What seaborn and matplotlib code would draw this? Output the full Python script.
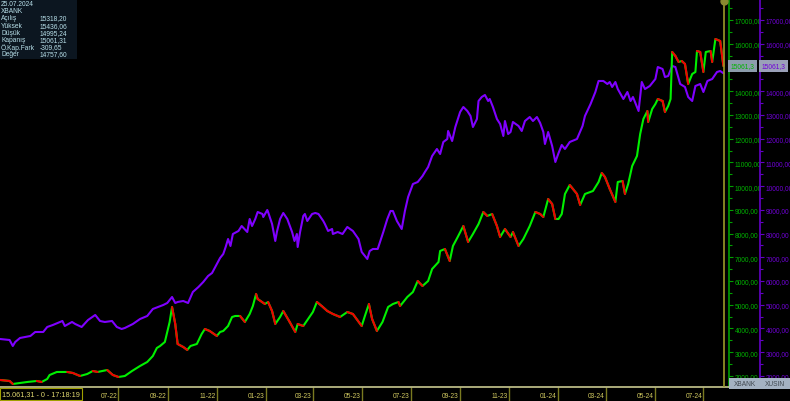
import numpy as np
import pandas as pd
import matplotlib
matplotlib.use("Agg")
import matplotlib.pyplot as plt
import matplotlib.dates as mdates
from matplotlib.collections import LineCollection
from matplotlib.patches import Rectangle
from matplotlib.ticker import MultipleLocator, FuncFormatter
from matplotlib.transforms import blended_transform_factory
import seaborn as sns

# ---------------- data ----------------
start_date = "2022-02-03"

# XBANK (days since start, close)
bank_days = [
    0, 12, 16, 25, 34, 46, 52, 59, 62, 71,
    84, 91, 100, 109, 116, 122, 134, 141, 148, 156,
    165, 175, 184, 191, 196, 200, 206, 212, 215, 219,
    222, 229, 234, 238, 246, 252, 256, 262, 271, 275,
    279, 285, 290, 294, 300, 306, 312, 316, 320, 322,
    331, 335, 340, 344, 350, 354, 362, 369, 372, 379,
    385, 391, 396, 402, 409, 416, 425, 434, 441, 452,
    456, 461, 465, 471, 478, 485, 491, 498, 500, 509,
    516, 522, 528, 535, 540, 548, 550, 556, 562, 566,
    572, 579, 585, 591, 598, 604, 609, 615, 621, 625,
    631, 638, 641, 648, 654, 662, 669, 675, 679, 685,
    690, 694, 698, 702, 706, 712, 721, 725, 731, 741,
    748, 752, 756, 762, 769, 772, 778, 781, 785, 790,
    796, 800, 804, 809, 810, 815, 819, 822, 828, 831,
    835, 838, 840, 844, 848, 852, 856, 860, 865, 869,
    871, 875, 879, 882, 888, 890, 894, 900, 904,
]
bank_close = [
    1830, 1788, 1661, 1703, 1745, 1788, 1745, 1872, 2040, 2167,
    2167, 2125, 1998, 2082, 2209, 2167, 2251, 2040, 1956, 1998,
    2209, 2420, 2588, 2841, 3178, 3262, 3431, 4274, 4906, 4189,
    3347, 3220, 3094, 3262, 3347, 3768, 3979, 3895, 3684, 3852,
    3895, 4105, 4484, 4527, 4527, 4274, 4611, 4948, 5454, 5243,
    5032, 5117, 4737, 4189, 4484, 4737, 4274, 3852, 4189, 4105,
    4400, 4695, 5117, 4948, 4737, 4611, 4484, 4695, 4611, 4105,
    4527, 5032, 4400, 3895, 4274, 4906, 5032, 5117, 4948, 5327,
    5538, 6002, 5791, 6002, 6507, 6802, 7266, 7350, 6844, 7476,
    7856, 8319, 7645, 7982, 8403, 8909, 8741, 8825, 8319, 7856,
    8193, 7856, 8066, 7476, 7771, 8319, 8909, 8825, 8698, 9457,
    9246, 8614, 8614, 8825, 9668, 10047, 9668, 9204, 9668, 9794,
    10173, 10553, 10384, 9878, 9331, 10173, 10216, 9668, 10089, 10848,
    11269, 12196, 12828, 13165, 12702, 13250, 13460, 13671, 13587, 13123,
    13376, 13671, 15652, 15483, 15230, 15272, 15146, 14303, 14725, 14809,
    15694, 15652, 14809, 15652, 15694, 15230, 16199, 16115, 15061.31,
]

# XUSIN (days since start, value on the same scale)
ind_days = [
    0, 12, 16, 19, 25, 38, 44, 54, 59, 66,
    78, 81, 90, 94, 102, 110, 119, 125, 131, 140,
    146, 152, 156, 166, 175, 184, 191, 204, 209, 215,
    219, 222, 229, 235, 241, 248, 254, 260, 265, 269,
    275, 279, 282, 285, 288, 291, 298, 302, 309, 312,
    315, 319, 322, 328, 329, 334, 335, 340, 344, 346,
    350, 354, 359, 365, 368, 371, 372, 375, 379, 381,
    384, 390, 394, 398, 404, 406, 410, 415, 416, 422,
    428, 434, 441, 448, 452, 459, 462, 466, 472, 479,
    484, 488, 491, 496, 502, 506, 510, 516, 522, 528,
    531, 535, 540, 546, 550, 554, 559, 560, 565, 569,
    575, 579, 584, 588, 591, 596, 598, 602, 606, 610,
    612, 616, 621, 625, 629, 631, 635, 638, 641, 648,
    652, 656, 662, 666, 671, 675, 679, 681, 685, 690,
    694, 698, 702, 706, 712, 721, 728, 731, 738, 744,
    748, 754, 759, 762, 765, 769, 772, 779, 784, 788,
    791, 798, 802, 806, 812, 819, 822, 828, 831, 835,
    840, 844, 850, 856, 860, 865, 869, 875, 879, 884,
    890, 896, 900, 904,
]
ind_value = [
    3557, 3515, 3262, 3431, 3600, 3684, 3852, 3852, 4063, 4147,
    4316, 4105, 4274, 4189, 4063, 4358, 4569, 4316, 4274, 4316,
    4063, 3979, 4021, 4189, 4400, 4527, 4822, 4990, 5074, 5327,
    5074, 5117, 5159, 5074, 5538, 5749, 5959, 6212, 6339, 6591,
    6971, 7139, 7434, 7771, 7476, 7982, 8109, 8319, 8066, 8614,
    8319, 8614, 8909, 8825, 8698, 8993, 8909, 8403, 7687, 8066,
    8614, 8867, 8614, 8066, 7687, 7982, 7434, 8066, 8741, 8825,
    8530, 8825, 8867, 8825, 8530, 8403, 8109, 8193, 7982, 8066,
    7982, 8277, 8109, 7771, 7224, 6929, 7266, 7350, 7350, 8066,
    8614, 8951, 8951, 8530, 8193, 8951, 9541, 10089, 10173, 10426,
    10595, 10805, 11269, 11564, 11353, 11859, 11985, 12323, 11901, 12491,
    13123, 13334, 13165, 12955, 12491, 12828, 13587, 13755, 13840, 13587,
    13671, 13334, 12828, 12617, 12112, 12744, 12196, 12280, 12702, 12533,
    12323, 12744, 12912, 12744, 12912, 12660, 12280, 11775, 12280, 11690,
    11016, 11395, 11733, 11564, 11859, 11985, 12533, 12955, 13460, 13966,
    14430, 14430, 14303, 14387, 14177, 14387, 14092, 13671, 13966, 13587,
    13755, 13165, 14387, 14092, 14219, 14514, 15019, 14935, 14598, 14640,
    15062, 15019, 14303, 14177, 13755, 13587, 14219, 14303, 13966, 14430,
    14514, 14809, 14851, 14757.60,
]

tick_months = ["2022-07-01", "2022-09-01", "2022-11-01", "2023-01-01", "2023-03-01",
               "2023-05-01", "2023-07-01", "2023-09-01", "2023-11-01", "2024-01-01",
               "2024-03-01", "2024-05-01", "2024-07-01"]
y_ticks = list(range(2000, 18000, 1000))

info_labels = ["Açılış", "Yüksek", "Düşük", "Kapanış", "Ö.Kap.Fark", "Değer"]
info_values = ["15318,20", "15436,06", "14995,24", "15061,31", "-309,65", "14757,60"]
info_date = "25.07.2024"
symbol = "XBANK"
symbol2 = "XUSIN"
status_text = "15.061,31 - 0 - 17:18:19"

# ---------------- style ----------------
sns.set_theme(style="dark")
plt.rcParams["font.family"] = ["Liberation Sans", "DejaVu Sans"]

W, H = 790, 402
FS = 4.8
UP, DOWN = "#00f000", "#f00000"
PURPLE = "#7f00ff"
GAX, GTXT = "#00a000", "#00b400"
PAX, PTXT = "#6400c8", "#7000d8"
OLIVE = "#9a9a28"

fig = plt.figure(figsize=(W / 100, H / 100), dpi=100, facecolor="black")
ax = fig.add_axes([0, 14 / H, 729 / W, 388 / H])
ax.set_facecolor("black")
ax2 = ax.twinx()   # created first: twinx resets the host's y ticks to the left

t0 = pd.Timestamp(start_date)
bank_dates = t0 + pd.to_timedelta(bank_days, unit="D")
ind_dates = t0 + pd.to_timedelta(ind_days, unit="D")
bank_df = pd.DataFrame({"date": bank_dates, "close": bank_close})
ind_df = pd.DataFrame({"date": ind_dates, "value": ind_value})

sns.lineplot(data=ind_df, x="date", y="value", color=PURPLE, lw=1.5, ax=ax)
sns.lineplot(data=bank_df, x="date", y="close", color=UP, lw=1.5, ax=ax)

# down moves in red
bx = mdates.date2num(bank_dates.to_pydatetime())
by = np.asarray(bank_close, dtype=float)
pts = np.column_stack([bx, by])
segs = np.stack([pts[:-1], pts[1:]], axis=1)
down = np.diff(by) < 0
ax.add_collection(LineCollection(segs[down], colors=DOWN, linewidths=1.5,
                                 capstyle="round", zorder=3))

ax.set_xlim(t0, t0 + pd.Timedelta(days=911))
ax.set_ylim(1534, 17885)
ax.set_xlabel("")
ax.set_ylabel("")
ax.grid(False)

# cursor line
cur = bank_dates[-1] + pd.Timedelta(days=1)
ax.axvline(cur, color=OLIVE, lw=1.2, zorder=4)
ax.plot([cur], [17800], marker="o", ms=5, color="#8a8a30", clip_on=False, zorder=5)

# spines
for s in ["top", "left"]:
    ax.spines[s].set_visible(False)
ax.spines["right"].set_color(GAX)
ax.spines["right"].set_linewidth(1.2)
ax.spines["bottom"].set_color("#c8c890")
ax.spines["bottom"].set_linewidth(1.2)

last = bank_close[-1]
fmt = FuncFormatter(lambda v, p: "" if abs(v - last) < 500 else f"{int(v)},00")

# green (XBANK) y-axis
ax.yaxis.set_label_position("right")
ax.set_yticks(y_ticks)
ax.yaxis.set_minor_locator(MultipleLocator(500))
ax.yaxis.set_major_formatter(fmt)
ax.tick_params(axis="y", which="both", left=False, labelleft=False,
               right=True, labelright=True)
ax.tick_params(axis="y", which="major", colors=GAX, labelcolor=GTXT, length=3,
               width=0.8, pad=1, labelsize=FS)
ax.tick_params(axis="y", which="minor", colors=GAX, length=2, width=0.8)

# purple (XUSIN) y-axis
ax2.set_ylim(ax.get_ylim())
ax2.spines["right"].set_position(("axes", 760 / 729))
for s in ["top", "left", "bottom"]:
    ax2.spines[s].set_visible(False)
ax2.spines["right"].set_color(PAX)
ax2.spines["right"].set_linewidth(1.2)
ax2.set_yticks(y_ticks)
ax2.yaxis.set_minor_locator(MultipleLocator(500))
ax2.yaxis.set_major_formatter(fmt)
ax2.tick_params(axis="y", which="both", left=False, labelleft=False,
                right=True, labelright=True)
ax2.tick_params(axis="y", which="major", colors=PAX, labelcolor=PTXT, length=3,
                width=0.8, pad=1, labelsize=FS)
ax2.tick_params(axis="y", which="minor", colors=PAX, length=2, width=0.8)
ax2.tick_params(axis="x", which="both", bottom=False, top=False,
                labelbottom=False, labeltop=False)
ax2.grid(False)
ax2.set_facecolor("none")

# last value boxes
lbl = f"{last:.1f}".replace(".", ",")
ax2.annotate(lbl, xy=(1.0, last), xycoords=("axes fraction", "data"),
             xytext=(1.2, 0), textcoords="offset points", ha="left", va="center",
             fontsize=FS, color=GTXT, zorder=6, annotation_clip=False,
             bbox=dict(boxstyle="square,pad=0.4", fc="#8c9cac", ec="none"))
ax2.annotate(lbl, xy=(760 / 729, last), xycoords=("axes fraction", "data"),
             xytext=(1.2, 0), textcoords="offset points", ha="left", va="center",
             fontsize=FS, color=PTXT, zorder=6, annotation_clip=False,
             bbox=dict(boxstyle="square,pad=0.4", fc="#9aa0b8", ec="none"))

# x axis: month ticks with labels left of the tick
tick_dates = pd.to_datetime(tick_months)
ax.set_xticks(tick_dates)
ax.set_xticklabels([])
ax.tick_params(axis="x", which="major", direction="out", length=10, width=1,
               colors="#7a7a20", bottom=True)
tr = blended_transform_factory(ax.transData, ax.transAxes)
for d in tick_dates:
    ax.text(mdates.date2num(d) - 1.5, -0.021, d.strftime("%m-%y"), transform=tr,
            ha="right", va="center", fontsize=FS, color="#d0c860", clip_on=False)

# status box bottom-left
fig.text(2 / W, 1 - 395 / H, status_text, ha="left", va="center", fontsize=5.2,
         color="#e0d870",
         bbox=dict(boxstyle="square,pad=0.3", fc="black", ec="#a0a000", lw=0.8))

# symbol boxes bottom-right
fig.add_artist(Rectangle((729 / W, 1 - 390 / H), 31 / W, 11 / H,
                         transform=fig.transFigure, fc="#a4b2c2", ec="none", zorder=5))
fig.add_artist(Rectangle((760 / W, 1 - 390 / H), 30 / W, 11 / H,
                         transform=fig.transFigure, fc="#a4b2c2", ec="none", zorder=5))
fig.text(744.5 / W, 1 - 384.5 / H, symbol, ha="center", va="center", fontsize=FS,
         color="#404850", zorder=6)
fig.text(775 / W, 1 - 384.5 / H, symbol2, ha="center", va="center", fontsize=FS,
         color="#404850", zorder=6)

# info box top-left
fig.add_artist(Rectangle((0, 1 - 60 / H), 77 / W, 60 / H, transform=fig.transFigure,
                         fc="#0c1620", ec="none", zorder=5))
info_col = "#b8e0ea"
fig.text(1 / W, 1 - 4.5 / H, info_date, fontsize=FS, color=info_col, va="center", zorder=6)
fig.text(1 / W, 1 - 11.5 / H, symbol, fontsize=FS, color=info_col, va="center", zorder=6)
for i, (lab, val) in enumerate(zip(info_labels, info_values)):
    yy = 1 - (19 + 7.2 * i) / H
    fig.text(1 / W, yy, lab, fontsize=FS, color=info_col, va="center", zorder=6)
    fig.text(40 / W, yy, val, fontsize=FS, color=info_col, va="center", zorder=6)

fig.savefig("out.png", dpi=100, facecolor="black")
